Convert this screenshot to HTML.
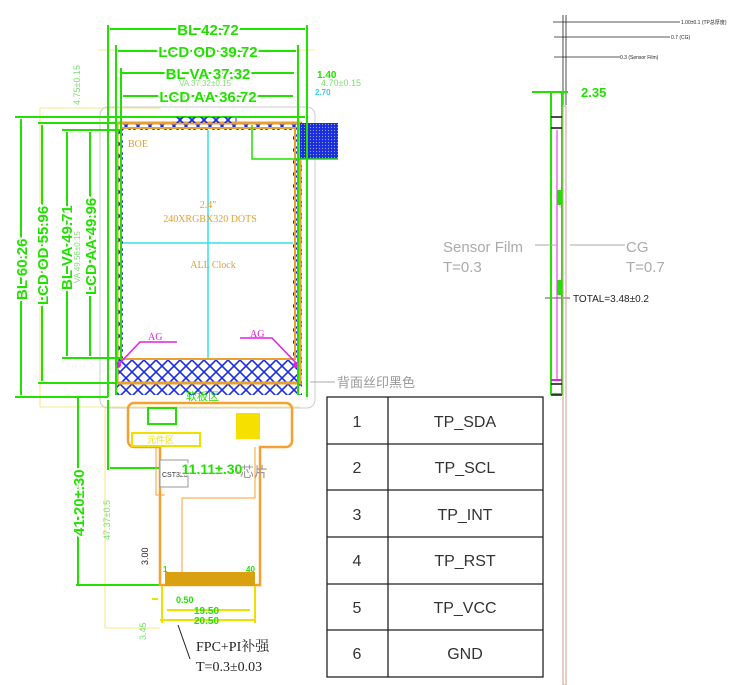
<!DOCTYPE html>
<html><head><meta charset="utf-8"><style>
html,body{margin:0;padding:0;background:#fff;width:750px;height:685px;overflow:hidden}
svg{display:block}
.g{fill:#22e000;font-family:"Liberation Sans",sans-serif;font-weight:bold}
.o{fill:#e0a030;font-family:"Liberation Serif",serif}
.t{font-family:"Liberation Sans","Noto Sans CJK SC",sans-serif}
</style></head><body>
<svg width="750" height="685" viewBox="0 0 750 685" xmlns="http://www.w3.org/2000/svg">
<defs>
<pattern id="x" width="12" height="12" patternUnits="userSpaceOnUse"><path d="M0 0L12 12M12 0L0 12" stroke="#1a2de0" stroke-width="1.6"/></pattern>
<pattern id="d" width="3" height="3" patternUnits="userSpaceOnUse"><rect width="3" height="3" fill="#1a2de0"/><circle cx="1.5" cy="1.5" r=".6" fill="#9ab"/></pattern>
</defs>
<!-- yellow thin lines -->
<g stroke="#f5e060" stroke-width="0.8" fill="none">
<line x1="98" y1="50" x2="315" y2="50"/><line x1="40" y1="108" x2="160" y2="108"/>
<line x1="40" y1="407" x2="300" y2="407"/><line x1="105" y1="628" x2="160" y2="628"/>
<line x1="105" y1="407" x2="105" y2="628"/><line x1="40" y1="108" x2="40" y2="407"/>
</g>
<!-- glass -->
<rect x="100" y="107" width="215" height="301" rx="8" fill="none" stroke="#ccc" stroke-width="1"/>
<!-- hatched border -->
<rect x="115" y="122" width="187" height="273" fill="url(#x)"/>
<rect x="180" y="117" width="56" height="6" fill="url(#x)" stroke="#1a2de0"/>
<rect x="123" y="130" width="170" height="228" fill="#fff"/>
<rect x="117" y="123" width="183" height="260" fill="none" stroke="#e8a030" stroke-width="3"/>
<rect x="121" y="128" width="174" height="231" fill="none" stroke="#e8a030" stroke-width="2"/>
<rect x="300" y="123" width="38" height="36" fill="url(#d)"/>
<polyline points="252,125 252,159 338,159" fill="none" stroke="#22e000" stroke-width="1.5"/>
<line x1="208" y1="130" x2="208" y2="358" stroke="#33e0e8" stroke-width="1.5"/>
<line x1="123" y1="243" x2="293" y2="243" stroke="#33e0e8" stroke-width="1.5"/>
<text x="128" y="147" class="o" font-size="10">BOE</text>
<text x="208" y="208" class="o" font-size="10" text-anchor="middle">2.4"</text>
<text x="210" y="222" class="o" font-size="10" text-anchor="middle">240XRGBX320 DOTS</text>
<text x="213" y="268" class="o" font-size="10" text-anchor="middle">ALL  Clock</text>
<polyline points="118,365 140,342 177,342" fill="none" stroke="#e020e0" stroke-width="1.5"/>
<polyline points="298,365 272,338 240,338" fill="none" stroke="#e020e0" stroke-width="1.5"/>
<circle cx="118" cy="365" r="3" fill="#e020e0"/><circle cx="296" cy="365" r="3" fill="#e020e0"/>
<text x="148" y="340" font-size="10" fill="#e020e0" font-family="Liberation Serif">AG</text>
<text x="250" y="337" font-size="10" fill="#e020e0" font-family="Liberation Serif">AG</text>
<!-- green dims -->
<g stroke="#22e000" stroke-width="2" fill="none">
<line x1="108" y1="25" x2="108" y2="397"/><line x1="307" y1="25" x2="307" y2="397"/>
<line x1="110" y1="29" x2="305" y2="29"/>
<line x1="116" y1="45" x2="116" y2="395"/><line x1="298" y1="45" x2="298" y2="395"/>
<line x1="118" y1="51" x2="296" y2="51"/>
<line x1="121" y1="68" x2="121" y2="360"/><line x1="122" y1="73" x2="294" y2="73"/>
<line x1="123" y1="96" x2="293" y2="96"/>
<line x1="15" y1="117" x2="305" y2="117"/><line x1="15" y1="397" x2="108" y2="397"/>
<line x1="21" y1="119" x2="21" y2="395"/>
<line x1="38" y1="123" x2="117" y2="123"/><line x1="38" y1="383" x2="117" y2="383"/>
<line x1="42" y1="125" x2="42" y2="381"/>
<line x1="62" y1="130" x2="120" y2="130"/><line x1="62" y1="358" x2="120" y2="358"/>
<line x1="67" y1="132" x2="67" y2="356"/>
<line x1="90" y1="132" x2="90" y2="356"/>
<line x1="78" y1="397" x2="78" y2="585"/><line x1="76" y1="585" x2="160" y2="585"/>
<line x1="108" y1="400" x2="108" y2="470"/><line x1="110" y1="468" x2="165" y2="468"/>
</g>
<rect x="174" y="117" width="62" height="6" fill="url(#x)"/>
<text x="208" y="35" class="g" font-size="15" text-anchor="middle" stroke="#fff" stroke-width="4" paint-order="stroke">BL 42.72</text>
<text x="208" y="57" class="g" font-size="15" text-anchor="middle" stroke="#fff" stroke-width="4" paint-order="stroke">LCD OD 39.72</text>
<text x="208" y="79" class="g" font-size="15" text-anchor="middle" stroke="#fff" stroke-width="4" paint-order="stroke">BL VA 37.32</text>
<text x="205" y="86" font-size="8" fill="#7de070" text-anchor="middle" font-family="Liberation Sans">VA 37.32±0.15</text>
<text x="208" y="102" class="g" font-size="15" text-anchor="middle" stroke="#fff" stroke-width="4" paint-order="stroke">LCD AA 36.72</text>
<text x="317" y="78" class="g" font-size="10">1.40</text>
<text x="321" y="86" font-size="9" fill="#7de070" font-family="Liberation Sans">4.70±0.15</text>
<text x="315" y="95" font-size="8" fill="#33d0f0" font-weight="bold" font-family="Liberation Sans">2.70</text>
<text transform="translate(80,105) rotate(-90)" font-size="9" fill="#7de070" font-family="Liberation Sans">4.75±0.15</text>
<text transform="translate(27,300) rotate(-90)" class="g" font-size="15" stroke="#fff" stroke-width="4" paint-order="stroke">BL 60.26</text>
<text transform="translate(48,305) rotate(-90)" class="g" font-size="15" stroke="#fff" stroke-width="4" paint-order="stroke">LCD OD 55.96</text>
<text transform="translate(72,290) rotate(-90)" class="g" font-size="15" stroke="#fff" stroke-width="4" paint-order="stroke">BL VA 49.71</text>
<text transform="translate(80,283) rotate(-90)" font-size="8" fill="#7de070" font-family="Liberation Sans">VA 49.56±0.15</text>
<text transform="translate(96,295) rotate(-90)" class="g" font-size="15" stroke="#fff" stroke-width="4" paint-order="stroke">LCD AA 49.96</text>
<text transform="translate(84,536) rotate(-90)" class="g" font-size="15" stroke="#fff" stroke-width="4" paint-order="stroke">41.20±.30</text>
<text transform="translate(110,540) rotate(-90)" font-size="9" fill="#7de070" font-family="Liberation Sans">47.37±0.5</text>
<text transform="translate(148,565) rotate(-90)" font-size="9" fill="#222" font-family="Liberation Sans">3.00</text>
<text transform="translate(146,640) rotate(-90)" font-size="9" fill="#7de070" font-family="Liberation Sans">3.45</text>
<!-- FPC -->
<g fill="none" stroke="#f5a030" stroke-width="2.5">
<path d="M135 403H286a6 6 0 0 1 6 6V441a6 6 0 0 1-6 6H260V585H160V447H134a6 6 0 0 1-6-6V409a6 6 0 0 1 6-6z"/>
</g>
<path d="M156 447V495h9" fill="none" stroke="#f5a030" stroke-width="1"/>
<path d="M255 447V498h-73V585" fill="none" stroke="#f5a030" stroke-width="1"/>
<rect x="148" y="408" width="28" height="16" fill="none" stroke="#22e000" stroke-width="2"/>
<rect x="132" y="433" width="68" height="13" fill="none" stroke="#f0e000" stroke-width="2"/>
<text x="147" y="443" font-size="9" fill="#f0e000" class="t">元件区</text>
<rect x="236" y="413" width="24" height="26" fill="#f5e000"/>
<rect x="160" y="460" width="28" height="27" fill="#fff" stroke="#999"/>
<text x="162" y="477" font-size="7" fill="#333" font-family="Liberation Sans">CST328</text>
<text x="212" y="474" class="g" font-size="14" stroke="#fff" stroke-width="3" paint-order="stroke" text-anchor="middle">11.11±.30</text>
<line x1="235" y1="472" x2="240" y2="472" stroke="#aaa"/>
<text x="240" y="477" font-size="14" fill="#999" class="t">芯片</text>
<rect x="165" y="572" width="90" height="14" fill="#d9a010"/>
<text x="163" y="572" class="g" font-size="8">1</text><text x="246" y="572" class="g" font-size="8">40</text>
<text x="186" y="400" font-size="11" fill="#22e000" class="t">软板区</text>
<g stroke="#f0e000" stroke-width="2"><line x1="162" y1="586" x2="162" y2="623"/><line x1="255" y1="586" x2="255" y2="623"/>
<line x1="152" y1="599" x2="158" y2="599"/><line x1="167" y1="610" x2="250" y2="610"/><line x1="160" y1="620" x2="255" y2="620"/></g>
<text x="176" y="603" class="g" font-size="9">0.50</text>
<text x="194" y="614" class="g" font-size="10">19.50</text>
<text x="194" y="624" class="g" font-size="10">20.50</text>
<line x1="178" y1="625" x2="190" y2="659" stroke="#222"/>
<text x="196" y="651" font-size="14" fill="#222" font-family="Liberation Serif,Noto Serif CJK SC,serif">FPC+PI补强</text>
<text x="196" y="671" font-size="14" fill="#222" font-family="Liberation Serif,Noto Serif CJK SC,serif">T=0.3±0.03</text>
<line x1="310" y1="382" x2="335" y2="382" stroke="#aaa"/>
<text x="337" y="387" font-size="13" fill="#999" class="t">背面丝印黑色</text>
<!-- table -->
<g stroke="#222" stroke-width="1.3" fill="none">
<rect x="327" y="397" width="216" height="280"/>
<line x1="388" y1="397" x2="388" y2="677"/>
<line x1="327" y1="444" x2="543" y2="444"/><line x1="327" y1="490" x2="543" y2="490"/>
<line x1="327" y1="537" x2="543" y2="537"/><line x1="327" y1="584" x2="543" y2="584"/>
<line x1="327" y1="630" x2="543" y2="630"/>
</g>
<g font-size="16" fill="#333" class="t" text-anchor="middle">
<text x="357" y="427">1</text><text x="465" y="427">TP_SDA</text>
<text x="357" y="473">2</text><text x="465" y="473">TP_SCL</text>
<text x="357" y="520">3</text><text x="465" y="520">TP_INT</text>
<text x="357" y="566">4</text><text x="465" y="566">TP_RST</text>
<text x="357" y="613">5</text><text x="465" y="613">TP_VCC</text>
<text x="357" y="659">6</text><text x="465" y="659">GND</text>
</g>
<!-- side view -->
<g stroke="#222" stroke-width="0.8">
<line x1="553" y1="22" x2="680" y2="22"/><line x1="554" y1="37" x2="670" y2="37"/><line x1="554" y1="57" x2="620" y2="57"/>
<line x1="563" y1="15" x2="563" y2="105"/><line x1="566" y1="15" x2="566" y2="105"/>
<line x1="545" y1="298" x2="570" y2="298"/>
</g>
<text x="681" y="24" font-size="5" fill="#222" class="t">1.00±0.1 (TP总厚度)</text>
<text x="671" y="39" font-size="5" fill="#222" class="t">0.7 (CG)</text>
<text x="620" y="59" font-size="5" fill="#222" class="t">0.3 (Sensor Film)</text>
<line x1="532" y1="92" x2="568" y2="92" stroke="#22e000" stroke-width="2"/>
<text x="581" y="97" class="g" font-size="13">2.35</text>
<rect x="551" y="92" width="11" height="302" fill="none" stroke="#22e000" stroke-width="2"/>
<line x1="557" y1="130" x2="557" y2="380" stroke="#e020e0" stroke-width="1"/>
<line x1="551" y1="380" x2="562" y2="380" stroke="#e020e0" stroke-width="2"/>
<g stroke="#111" stroke-width="1.5"><line x1="551" y1="117" x2="562" y2="117"/><line x1="551" y1="128" x2="562" y2="128"/><line x1="551" y1="384" x2="562" y2="384"/><line x1="551" y1="395" x2="562" y2="395"/></g>
<rect x="557" y="190" width="4" height="15" fill="#22e000"/><rect x="557" y="280" width="4" height="15" fill="#22e000"/>
<rect x="563" y="106" width="3" height="579" fill="none" stroke="#c8a090" stroke-width="1"/>
<line x1="535" y1="245" x2="557" y2="245" stroke="#aaa"/><line x1="570" y1="245" x2="625" y2="245" stroke="#aaa"/>
<g font-size="15" fill="#aaa" class="t">
<text x="443" y="252">Sensor Film</text><text x="443" y="272">T=0.3</text>
<text x="626" y="252">CG</text><text x="626" y="272">T=0.7</text>
</g>
<text x="573" y="302" font-size="10" fill="#222" class="t">TOTAL=3.48±0.2</text>
</svg>
</body></html>
